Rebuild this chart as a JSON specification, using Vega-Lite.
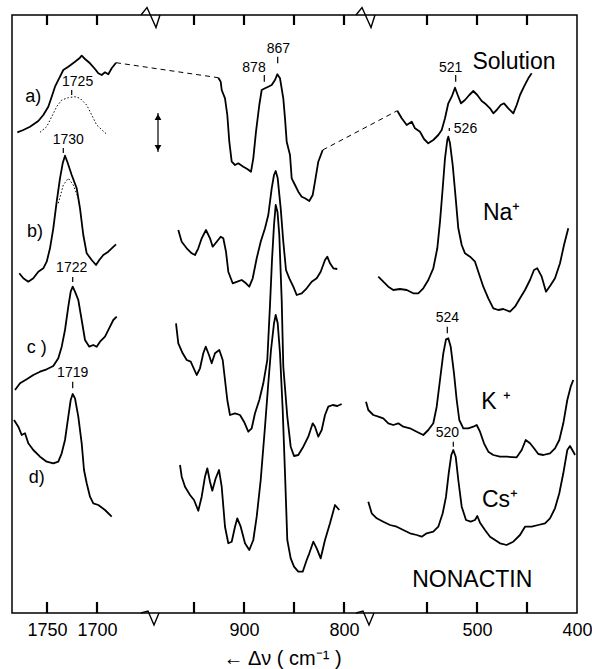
{
"$schema": "https://vega.github.io/schema/vega-lite/v6.json",
"width": 565, "height": 598,
"autosize": {"type": "none"},
"padding": {"left": 12, "top": 15, "right": 15, "bottom": 56},
"background": "white",
"config": {"view": {"stroke": "#000", "strokeWidth": 1.5}, "font": "Liberation Sans", "text": {"font": "Liberation Sans", "color": "#000"}},
"datasets": {
"spec": [
{"s":"a1","w":1779.7,"i":480.7},{"s":"a1","w":1773.7,"i":483},{"s":"a1","w":1767,"i":486.3},{"s":"a1","w":1758.7,"i":492},{"s":"a1","w":1753.7,"i":498},{"s":"a1","w":1748.7,"i":506.3},{"s":"a1","w":1745.3,"i":516.3},{"s":"a1","w":1742,"i":526.3},{"s":"a1","w":1737,"i":536.3},{"s":"a1","w":1733.7,"i":543},{"s":"a1","w":1728.7,"i":546.3},{"s":"a1","w":1722,"i":551.3},{"s":"a1","w":1717,"i":555.3},{"s":"a1","w":1715.3,"i":557.3},{"s":"a1","w":1712,"i":554},{"s":"a1","w":1707,"i":549.7},{"s":"a1","w":1702,"i":544},{"s":"a1","w":1698.7,"i":539.7},{"s":"a1","w":1695.3,"i":538},{"s":"a1","w":1692,"i":540.7},{"s":"a1","w":1688.7,"i":538.7},{"s":"a1","w":1685.3,"i":544.7},{"s":"a1","w":1681,"i":550.3},
{"s":"a2","w":925.7,"i":535.3},{"s":"a2","w":923.3,"i":531.3},{"s":"a2","w":922.3,"i":523},{"s":"a2","w":919,"i":514.7},{"s":"a2","w":916.7,"i":498},{"s":"a2","w":914.7,"i":471.3},{"s":"a2","w":912.3,"i":451.3},{"s":"a2","w":909,"i":448},{"s":"a2","w":905.7,"i":449.7},{"s":"a2","w":900.7,"i":446.3},{"s":"a2","w":896.7,"i":444},{"s":"a2","w":893,"i":441.3},{"s":"a2","w":890.7,"i":454.7},{"s":"a2","w":888,"i":481.3},{"s":"a2","w":884.7,"i":508},{"s":"a2","w":882.3,"i":523},{"s":"a2","w":879,"i":524.7},{"s":"a2","w":875.7,"i":526.3},{"s":"a2","w":872.3,"i":528},{"s":"a2","w":869,"i":533},{"s":"a2","w":866.7,"i":538.7},{"s":"a2","w":864,"i":534.7},{"s":"a2","w":860.7,"i":514.7},{"s":"a2","w":859,"i":494.7},{"s":"a2","w":857.3,"i":471.3},{"s":"a2","w":854,"i":458},{"s":"a2","w":852.3,"i":434.7},{"s":"a2","w":849,"i":428},{"s":"a2","w":845.7,"i":421.3},{"s":"a2","w":842.3,"i":416.3},{"s":"a2","w":839,"i":414.7},{"s":"a2","w":834.7,"i":412},{"s":"a2","w":831.3,"i":418},{"s":"a2","w":829,"i":431.3},{"s":"a2","w":825.7,"i":451.3},{"s":"a2","w":821.3,"i":463},
{"s":"a3","w":579.7,"i":502.3},{"s":"a3","w":575.3,"i":494.7},{"s":"a3","w":570.3,"i":488},{"s":"a3","w":565.3,"i":491.3},{"s":"a3","w":562,"i":484.7},{"s":"a3","w":557,"i":481.3},{"s":"a3","w":553,"i":474},{"s":"a3","w":548.7,"i":469.7},{"s":"a3","w":543.7,"i":473},{"s":"a3","w":538.7,"i":478},{"s":"a3","w":535.3,"i":483},{"s":"a3","w":532,"i":494.7},{"s":"a3","w":528.7,"i":509.7},{"s":"a3","w":525.3,"i":516.3},{"s":"a3","w":522,"i":525.3},{"s":"a3","w":519.3,"i":518},{"s":"a3","w":516,"i":509.7},{"s":"a3","w":512,"i":513},{"s":"a3","w":507.7,"i":518},{"s":"a3","w":503.7,"i":522},{"s":"a3","w":499.7,"i":518},{"s":"a3","w":495.3,"i":512},{"s":"a3","w":491,"i":508.7},{"s":"a3","w":487,"i":504.7},{"s":"a3","w":483.7,"i":499.7},{"s":"a3","w":480.3,"i":503},{"s":"a3","w":476.3,"i":508},{"s":"a3","w":473,"i":509.7},{"s":"a3","w":468.7,"i":504.7},{"s":"a3","w":463.7,"i":499.7},{"s":"a3","w":460.3,"i":508},{"s":"a3","w":457,"i":518},{"s":"a3","w":453,"i":526.3},{"s":"a3","w":448.7,"i":534.7},{"s":"a3","w":445.3,"i":539.7},
{"s":"b1","w":1777.7,"i":339.7},{"s":"b1","w":1773.7,"i":334.7},{"s":"b1","w":1768.7,"i":331.3},{"s":"b1","w":1763.7,"i":334.7},{"s":"b1","w":1758.7,"i":341.3},{"s":"b1","w":1753.7,"i":344.7},{"s":"b1","w":1750.3,"i":351.3},{"s":"b1","w":1747,"i":364.7},{"s":"b1","w":1743.7,"i":384.7},{"s":"b1","w":1740.3,"i":411.3},{"s":"b1","w":1737,"i":434.7},{"s":"b1","w":1734.3,"i":449.7},{"s":"b1","w":1732,"i":457.3},{"s":"b1","w":1729.7,"i":451.3},{"s":"b1","w":1725.3,"i":438},{"s":"b1","w":1720.3,"i":424.7},{"s":"b1","w":1717,"i":404.7},{"s":"b1","w":1713.7,"i":378},{"s":"b1","w":1710.3,"i":359.7},{"s":"b1","w":1705.3,"i":353},{"s":"b1","w":1701,"i":348},{"s":"b1","w":1697.7,"i":353},{"s":"b1","w":1693.7,"i":358},{"s":"b1","w":1688.7,"i":361.3},{"s":"b1","w":1685.3,"i":364.7},{"s":"b1","w":1681,"i":368.7},
{"s":"b2","w":965.7,"i":383},{"s":"b2","w":962.3,"i":371.3},{"s":"b2","w":957.3,"i":364.7},{"s":"b2","w":952.3,"i":359.7},{"s":"b2","w":949,"i":358},{"s":"b2","w":945.7,"i":364.7},{"s":"b2","w":942.3,"i":374.7},{"s":"b2","w":938,"i":383},{"s":"b2","w":934,"i":374.7},{"s":"b2","w":931.3,"i":366.3},{"s":"b2","w":927.3,"i":371.3},{"s":"b2","w":923.3,"i":376.3},{"s":"b2","w":920.7,"i":374.7},{"s":"b2","w":918,"i":361.3},{"s":"b2","w":915.7,"i":341.3},{"s":"b2","w":911.3,"i":329.7},{"s":"b2","w":906.7,"i":331.3},{"s":"b2","w":902.3,"i":333},{"s":"b2","w":898,"i":329.7},{"s":"b2","w":894.7,"i":326.3},{"s":"b2","w":891.3,"i":334.7},{"s":"b2","w":887.3,"i":354.7},{"s":"b2","w":883.3,"i":371.3},{"s":"b2","w":879,"i":384.7},{"s":"b2","w":875.7,"i":398},{"s":"b2","w":872.3,"i":424.7},{"s":"b2","w":870,"i":438},{"s":"b2","w":868.3,"i":442},{"s":"b2","w":866.3,"i":434.7},{"s":"b2","w":863.3,"i":404.7},{"s":"b2","w":860.7,"i":371.3},{"s":"b2","w":858,"i":343},{"s":"b2","w":854.7,"i":334.7},{"s":"b2","w":850.7,"i":326.3},{"s":"b2","w":847.3,"i":318},{"s":"b2","w":842.3,"i":319.7},{"s":"b2","w":837.3,"i":324.7},{"s":"b2","w":832.3,"i":331.3},{"s":"b2","w":827.3,"i":334.7},{"s":"b2","w":823.3,"i":341.3},{"s":"b2","w":819,"i":353},{"s":"b2","w":816.7,"i":356.3},{"s":"b2","w":814,"i":349.7},{"s":"b2","w":810.7,"i":344.7},{"s":"b2","w":806.7,"i":344},
{"s":"b3","w":598.7,"i":336.3},{"s":"b3","w":593.7,"i":331.3},{"s":"b3","w":588.7,"i":326.3},{"s":"b3","w":583.7,"i":323},{"s":"b3","w":577,"i":324},{"s":"b3","w":570.3,"i":323},{"s":"b3","w":563.7,"i":319.7},{"s":"b3","w":558.7,"i":319.7},{"s":"b3","w":553.7,"i":324.7},{"s":"b3","w":548.7,"i":333},{"s":"b3","w":543.7,"i":344.7},{"s":"b3","w":539.7,"i":364.7},{"s":"b3","w":537,"i":391.3},{"s":"b3","w":534.3,"i":424.7},{"s":"b3","w":532,"i":454.7},{"s":"b3","w":529.7,"i":473},{"s":"b3","w":528.7,"i":476.3},{"s":"b3","w":527,"i":469.7},{"s":"b3","w":524.3,"i":448},{"s":"b3","w":521.3,"i":414.7},{"s":"b3","w":518.7,"i":384.7},{"s":"b3","w":515.3,"i":368},{"s":"b3","w":512,"i":359.7},{"s":"b3","w":507,"i":356.3},{"s":"b3","w":502,"i":351.3},{"s":"b3","w":498.7,"i":341.3},{"s":"b3","w":493.7,"i":326.3},{"s":"b3","w":488.7,"i":314.7},{"s":"b3","w":483.7,"i":304.7},{"s":"b3","w":478.7,"i":303},{"s":"b3","w":473.7,"i":304},{"s":"b3","w":467,"i":301.3},{"s":"b3","w":462,"i":306.3},{"s":"b3","w":457,"i":314.7},{"s":"b3","w":452,"i":323},{"s":"b3","w":447,"i":333},{"s":"b3","w":443,"i":343},{"s":"b3","w":439.7,"i":344.7},{"s":"b3","w":435.3,"i":336.3},{"s":"b3","w":431,"i":321.3},{"s":"b3","w":426.3,"i":328},{"s":"b3","w":422,"i":334.7},{"s":"b3","w":417,"i":349.7},{"s":"b3","w":413,"i":368},{"s":"b3","w":408.7,"i":384.7},
{"s":"c1","w":1782,"i":223},{"s":"c1","w":1777,"i":229.7},{"s":"c1","w":1770.3,"i":233.7},{"s":"c1","w":1763.7,"i":238},{"s":"c1","w":1757,"i":241.3},{"s":"c1","w":1750.3,"i":243.7},{"s":"c1","w":1743.7,"i":247},{"s":"c1","w":1738.7,"i":254.7},{"s":"c1","w":1735.3,"i":266.3},{"s":"c1","w":1732,"i":283},{"s":"c1","w":1728.7,"i":306.3},{"s":"c1","w":1726.3,"i":321.3},{"s":"c1","w":1724.3,"i":326.3},{"s":"c1","w":1722,"i":321.3},{"s":"c1","w":1718.7,"i":313},{"s":"c1","w":1715.3,"i":293},{"s":"c1","w":1712,"i":273},{"s":"c1","w":1707.7,"i":266.3},{"s":"c1","w":1703.7,"i":268},{"s":"c1","w":1700.3,"i":266.3},{"s":"c1","w":1697,"i":271.3},{"s":"c1","w":1692,"i":276.3},{"s":"c1","w":1687,"i":286.3},{"s":"c1","w":1683.7,"i":293},{"s":"c1","w":1680.3,"i":296.3},
{"s":"c2","w":968,"i":289.7},{"s":"c2","w":965.7,"i":269.7},{"s":"c2","w":961.3,"i":259.7},{"s":"c2","w":957.3,"i":253},{"s":"c2","w":953.3,"i":251.3},{"s":"c2","w":947.3,"i":238},{"s":"c2","w":944,"i":244.7},{"s":"c2","w":940.7,"i":259.7},{"s":"c2","w":938.3,"i":266.3},{"s":"c2","w":935,"i":258},{"s":"c2","w":932.3,"i":249.7},{"s":"c2","w":929,"i":259.7},{"s":"c2","w":924.7,"i":263},{"s":"c2","w":921.3,"i":253},{"s":"c2","w":919,"i":233},{"s":"c2","w":916.7,"i":213},{"s":"c2","w":914,"i":198},{"s":"c2","w":909,"i":199.7},{"s":"c2","w":904,"i":198},{"s":"c2","w":900,"i":191.3},{"s":"c2","w":895.7,"i":181.3},{"s":"c2","w":892.3,"i":184.7},{"s":"c2","w":889,"i":199.7},{"s":"c2","w":884.7,"i":213},{"s":"c2","w":880.7,"i":229.7},{"s":"c2","w":876.7,"i":253},{"s":"c2","w":874,"i":308},{"s":"c2","w":872,"i":353},{"s":"c2","w":870,"i":388},{"s":"c2","w":868.3,"i":408},{"s":"c2","w":866.5,"i":401},{"s":"c2","w":864.7,"i":378},{"s":"c2","w":862.3,"i":313},{"s":"c2","w":860.7,"i":246.3},{"s":"c2","w":856.7,"i":196.3},{"s":"c2","w":853.3,"i":166.3},{"s":"c2","w":850,"i":157},{"s":"c2","w":845.7,"i":158},{"s":"c2","w":840.7,"i":166.3},{"s":"c2","w":835.7,"i":176.3},{"s":"c2","w":831.3,"i":189.7},{"s":"c2","w":829,"i":186.3},{"s":"c2","w":825.7,"i":176.3},{"s":"c2","w":822.3,"i":183},{"s":"c2","w":819,"i":198},{"s":"c2","w":815.7,"i":206.3},{"s":"c2","w":811.3,"i":208},{"s":"c2","w":806.7,"i":207},{"s":"c2","w":802.3,"i":209},
{"s":"c3","w":611,"i":211.3},{"s":"c3","w":608.7,"i":203},{"s":"c3","w":603.7,"i":198},{"s":"c3","w":598.7,"i":196.3},{"s":"c3","w":593.7,"i":194.7},{"s":"c3","w":588.7,"i":189.7},{"s":"c3","w":583.7,"i":188},{"s":"c3","w":578.7,"i":189.7},{"s":"c3","w":573.7,"i":186.3},{"s":"c3","w":567,"i":184.7},{"s":"c3","w":560.3,"i":181.3},{"s":"c3","w":553.7,"i":178},{"s":"c3","w":548.7,"i":183},{"s":"c3","w":543.7,"i":189.7},{"s":"c3","w":540.3,"i":206.3},{"s":"c3","w":537,"i":233},{"s":"c3","w":533.7,"i":259.7},{"s":"c3","w":531,"i":273.7},{"s":"c3","w":528.7,"i":274.7},{"s":"c3","w":526.3,"i":266.3},{"s":"c3","w":523,"i":239.7},{"s":"c3","w":520.3,"i":213},{"s":"c3","w":517.7,"i":193},{"s":"c3","w":513.7,"i":184.7},{"s":"c3","w":508.7,"i":184.7},{"s":"c3","w":503.7,"i":186.3},{"s":"c3","w":500.3,"i":188},{"s":"c3","w":497,"i":181.3},{"s":"c3","w":493,"i":169.7},{"s":"c3","w":488.7,"i":161.3},{"s":"c3","w":483.7,"i":158},{"s":"c3","w":477,"i":156.3},{"s":"c3","w":470.3,"i":156.3},{"s":"c3","w":460.3,"i":155.7},{"s":"c3","w":455.3,"i":163},{"s":"c3","w":451.3,"i":173},{"s":"c3","w":447,"i":169.7},{"s":"c3","w":443,"i":164.7},{"s":"c3","w":438.7,"i":159},{"s":"c3","w":433.7,"i":158},{"s":"c3","w":427,"i":159.7},{"s":"c3","w":422,"i":164.7},{"s":"c3","w":417.7,"i":173},{"s":"c3","w":413.7,"i":189.7},{"s":"c3","w":409.7,"i":213},{"s":"c3","w":406.3,"i":226.3},{"s":"c3","w":403.7,"i":233},
{"s":"d1","w":1783,"i":193},{"s":"d1","w":1778.7,"i":186.3},{"s":"d1","w":1775.3,"i":178},{"s":"d1","w":1772,"i":179.7},{"s":"d1","w":1768.7,"i":169.7},{"s":"d1","w":1763.7,"i":163},{"s":"d1","w":1757,"i":156.3},{"s":"d1","w":1750.3,"i":151.3},{"s":"d1","w":1743.7,"i":149.7},{"s":"d1","w":1738.7,"i":151.3},{"s":"d1","w":1735.3,"i":159.7},{"s":"d1","w":1732,"i":173},{"s":"d1","w":1728.7,"i":196.3},{"s":"d1","w":1726.3,"i":213},{"s":"d1","w":1724.3,"i":219},{"s":"d1","w":1722,"i":214.7},{"s":"d1","w":1718.7,"i":196.3},{"s":"d1","w":1715.3,"i":169.7},{"s":"d1","w":1713,"i":143},{"s":"d1","w":1710.3,"i":129.7},{"s":"d1","w":1707,"i":116.3},{"s":"d1","w":1703.7,"i":109.7},{"s":"d1","w":1698.7,"i":108},{"s":"d1","w":1692,"i":103},{"s":"d1","w":1685.3,"i":96.3},
{"s":"d2","w":964,"i":148},{"s":"d2","w":962.3,"i":136.3},{"s":"d2","w":959,"i":126.3},{"s":"d2","w":954,"i":118},{"s":"d2","w":950,"i":113},{"s":"d2","w":945.7,"i":102.3},{"s":"d2","w":942.3,"i":116.3},{"s":"d2","w":939,"i":136.3},{"s":"d2","w":936.7,"i":144.7},{"s":"d2","w":934,"i":131.3},{"s":"d2","w":931.7,"i":122.3},{"s":"d2","w":928.3,"i":134.7},{"s":"d2","w":925,"i":143},{"s":"d2","w":922.3,"i":126.3},{"s":"d2","w":919,"i":86.3},{"s":"d2","w":915.7,"i":69.7},{"s":"d2","w":912.3,"i":71.3},{"s":"d2","w":909,"i":86.3},{"s":"d2","w":906.7,"i":94.7},{"s":"d2","w":903.3,"i":86.3},{"s":"d2","w":899,"i":69.7},{"s":"d2","w":894.7,"i":63},{"s":"d2","w":890.7,"i":73},{"s":"d2","w":887.3,"i":96.3},{"s":"d2","w":883.3,"i":133},{"s":"d2","w":879,"i":186.3},{"s":"d2","w":875.7,"i":229.7},{"s":"d2","w":873,"i":263},{"s":"d2","w":870,"i":289.7},{"s":"d2","w":868.3,"i":298},{"s":"d2","w":866.3,"i":289.7},{"s":"d2","w":864,"i":259.7},{"s":"d2","w":861.3,"i":203},{"s":"d2","w":859,"i":139.7},{"s":"d2","w":856.7,"i":73},{"s":"d2","w":853.3,"i":54.7},{"s":"d2","w":850,"i":46.3},{"s":"d2","w":845.7,"i":41.3},{"s":"d2","w":841.3,"i":41.3},{"s":"d2","w":837.3,"i":53},{"s":"d2","w":834.7,"i":59.7},{"s":"d2","w":830.7,"i":71.3},{"s":"d2","w":827.3,"i":64.7},{"s":"d2","w":823.3,"i":54.7},{"s":"d2","w":819,"i":73},{"s":"d2","w":814,"i":89.7},{"s":"d2","w":809,"i":108},{"s":"d2","w":804.7,"i":103},
{"s":"d3","w":608.7,"i":111.3},{"s":"d3","w":605.3,"i":99.7},{"s":"d3","w":600.3,"i":94.7},{"s":"d3","w":593.7,"i":91.3},{"s":"d3","w":587,"i":88},{"s":"d3","w":580.3,"i":86.3},{"s":"d3","w":573.7,"i":83},{"s":"d3","w":567,"i":79.7},{"s":"d3","w":560.3,"i":78},{"s":"d3","w":555.3,"i":76.3},{"s":"d3","w":550.3,"i":79.7},{"s":"d3","w":543.7,"i":81.3},{"s":"d3","w":538.7,"i":86.3},{"s":"d3","w":534.3,"i":99.7},{"s":"d3","w":531,"i":116.3},{"s":"d3","w":528.3,"i":139.7},{"s":"d3","w":525.7,"i":158},{"s":"d3","w":523.7,"i":163},{"s":"d3","w":521.3,"i":156.3},{"s":"d3","w":518.7,"i":133},{"s":"d3","w":515.3,"i":106.3},{"s":"d3","w":511,"i":93},{"s":"d3","w":506.3,"i":91.3},{"s":"d3","w":502,"i":93},{"s":"d3","w":499.7,"i":97},{"s":"d3","w":497,"i":90.3},{"s":"d3","w":492,"i":83},{"s":"d3","w":487,"i":76.3},{"s":"d3","w":482,"i":73},{"s":"d3","w":477,"i":69.7},{"s":"d3","w":470.3,"i":68},{"s":"d3","w":463.7,"i":71.3},{"s":"d3","w":457,"i":78},{"s":"d3","w":452,"i":86.3},{"s":"d3","w":445.3,"i":86.3},{"s":"d3","w":438.7,"i":88},{"s":"d3","w":432,"i":89.7},{"s":"d3","w":427,"i":94.7},{"s":"d3","w":422,"i":104.7},{"s":"d3","w":417.7,"i":119.7},{"s":"d3","w":413.7,"i":139.7},{"s":"d3","w":409.7,"i":163},{"s":"d3","w":407,"i":167},{"s":"d3","w":403.7,"i":161.3},{"s":"d3","w":402,"i":158}
],
"dot": [
{"s":"ad","w":1757,"i":480.7},{"s":"ad","w":1750.3,"i":486.3},{"s":"ad","w":1745.3,"i":496.3},{"s":"ad","w":1740.3,"i":506.3},{"s":"ad","w":1735.3,"i":513},{"s":"ad","w":1728.7,"i":515.3},{"s":"ad","w":1722,"i":516.3},{"s":"ad","w":1717,"i":514.7},{"s":"ad","w":1710.3,"i":508},{"s":"ad","w":1705.3,"i":498},{"s":"ad","w":1700.3,"i":488},{"s":"ad","w":1690.3,"i":478.7},
{"s":"bd","w":1738.7,"i":409.7},{"s":"bd","w":1733.7,"i":428},{"s":"bd","w":1728.7,"i":434.7},{"s":"bd","w":1723.7,"i":428},{"s":"bd","w":1718.7,"i":414.7}
],
"dash": [
{"s":"x1","w":1681,"i":550.3},{"s":"x1","w":925.7,"i":535.3},
{"s":"x2","w":821.3,"i":463},{"s":"x2","w":579.7,"i":502.3}
],
"peaks": [
{"t":"1725","w":1719.4,"i":531.3},{"t":"1730","w":1728.7,"i":473},{"t":"1722","w":1725.3,"i":344.7},{"t":"1719","w":1724.3,"i":240.3},
{"t":"878","w":890,"i":545.3},{"t":"867","w":865.7,"i":563.7},{"t":"521","w":526.3,"i":545.3},{"t":"526","w":511.5,"i":484},
{"t":"524","w":529.7,"i":294.7},{"t":"520","w":529.7,"i":179.7}
],
"rules": [
{"w":1725.3,"a":523,"b":518},{"w":1733.7,"a":465,"b":460},{"w":1724.3,"a":336,"b":331},{"w":1724.3,"a":231.3,"b":224.7},
{"w":879.7,"a":538,"b":531.3},{"w":866.3,"a":556.3,"b":549.7},{"w":521.3,"a":538,"b":531.3},{"w":527.7,"a":485,"b":482},
{"w":529.7,"a":286.3,"b":279.7},{"w":523.7,"a":171.3,"b":166.3},
{"w":986,"a":500,"b":461}
],
"axticks": [
{"w":1750,"a":0,"b":11},{"w":1700,"a":0,"b":11},{"w":950,"a":0,"b":11},{"w":900,"a":0,"b":11},{"w":850,"a":0,"b":11},{"w":800,"a":0,"b":11},{"w":550,"a":0,"b":11},{"w":500,"a":0,"b":11},{"w":450,"a":0,"b":11},
{"w":1750,"a":598,"b":588},{"w":1700,"a":598,"b":588},{"w":950,"a":598,"b":588},{"w":900,"a":598,"b":588},{"w":850,"a":598,"b":588},{"w":800,"a":598,"b":588},{"w":550,"a":598,"b":588},{"w":500,"a":598,"b":588},{"w":450,"a":598,"b":588}
],
"tags": [
{"t":"a)","w":1763.7,"i":516.3},{"t":"b)","w":1762,"i":381.3},{"t":"c )","w":1760.3,"i":264.7},{"t":"d)","w":1760.3,"i":134.7}
],
"names": [
{"t":"Solution","w":463,"i":551.3},{"t":"Na⁺","w":475.3,"i":399.7},{"t":"K ⁺","w":481,"i":211.3},{"t":"Cs⁺","w":477,"i":113},{"t":"NONACTIN","w":504.7,"i":33}
],
"upheads": [{"w":986,"i":496}],
"downheads": [{"w":986,"i":465}],
"topbreaks": [{"w":1646,"i":598},{"w":778,"i":598}],
"bottombreaks": [{"w":1646,"i":0},{"w":778,"i":0}]
},
"layer": [
{"data": {"name": "rules"},
 "mark": {"type": "rule", "stroke": "#000", "strokeWidth": 1.2},
 "encoding": {
  "x": {"field": "w", "type": "quantitative",
        "scale": {"domain": [1785, 1646, 993, 778, 611, 400], "range": [0, 139, 139, 354, 354, 565], "nice": false, "zero": false},
        "axis": {"orient": "bottom", "values": [1750, 1700, 900, 800, 500, 400], "format": "d",
                 "ticks": false, "domain": false, "grid": false,
                 "labelFontSize": 18, "labelColor": "#000", "labelPadding": 8, "labelFlush": false, "labelOverlap": false, "labelFont": "Liberation Sans",
                 "title": "← Δν ( cm⁻¹ )", "titleFontSize": 20, "titleFontWeight": "normal", "titleColor": "#000", "titleFont": "Liberation Sans",
                 "titleX": 270, "titleY": 45, "titleBaseline": "middle", "titleAlign": "center"}},
  "y": {"field": "a", "type": "quantitative", "scale": {"domain": [0, 598], "nice": false, "zero": false}, "axis": null},
  "y2": {"field": "b"}}},
{"data": {"name": "spec"},
 "mark": {"type": "line", "stroke": "#000", "strokeWidth": 1.8, "strokeJoin": "round"},
 "encoding": {"x": {"field": "w", "type": "quantitative"}, "y": {"field": "i", "type": "quantitative"}, "detail": {"field": "s"}}},
{"data": {"name": "dot"},
 "mark": {"type": "line", "stroke": "#000", "strokeWidth": 1, "strokeDash": [1.5, 2]},
 "encoding": {"x": {"field": "w", "type": "quantitative"}, "y": {"field": "i", "type": "quantitative"}, "detail": {"field": "s"}}},
{"data": {"name": "dash"},
 "mark": {"type": "line", "stroke": "#000", "strokeWidth": 1, "strokeDash": [5, 4]},
 "encoding": {"x": {"field": "w", "type": "quantitative"}, "y": {"field": "i", "type": "quantitative"}, "detail": {"field": "s"}}},
{"data": {"name": "peaks"},
 "mark": {"type": "text", "fontSize": 14, "baseline": "middle", "align": "center"},
 "encoding": {"x": {"field": "w", "type": "quantitative"}, "y": {"field": "i", "type": "quantitative"}, "text": {"field": "t"}}},
{"data": {"name": "tags"},
 "mark": {"type": "text", "fontSize": 18, "baseline": "middle", "align": "center"},
 "encoding": {"x": {"field": "w", "type": "quantitative"}, "y": {"field": "i", "type": "quantitative"}, "text": {"field": "t"}}},
{"data": {"name": "names"},
 "mark": {"type": "text", "fontSize": 23, "baseline": "middle", "align": "center"},
 "encoding": {"x": {"field": "w", "type": "quantitative"}, "y": {"field": "i", "type": "quantitative"}, "text": {"field": "t"}}},
{"data": {"name": "upheads"},
 "mark": {"type": "point", "filled": true, "color": "#000", "size": 45, "opacity": 1, "shape": "triangle-up"},
 "encoding": {"x": {"field": "w", "type": "quantitative"}, "y": {"field": "i", "type": "quantitative"}}},
{"data": {"name": "downheads"},
 "mark": {"type": "point", "filled": true, "color": "#000", "size": 45, "opacity": 1, "shape": "triangle-down"},
 "encoding": {"x": {"field": "w", "type": "quantitative"}, "y": {"field": "i", "type": "quantitative"}}},
{"data": {"name": "topbreaks"},
 "mark": {"type": "point", "filled": false, "stroke": "#000", "strokeWidth": 1.4, "size": 400, "opacity": 1, "shape": "M-1,0L-0.4,-0.75L0.5,1.25L0.9,0"},
 "encoding": {"x": {"field": "w", "type": "quantitative"}, "y": {"field": "i", "type": "quantitative"}}},
{"data": {"name": "bottombreaks"},
 "mark": {"type": "point", "filled": false, "stroke": "#000", "strokeWidth": 1.4, "size": 400, "opacity": 1, "shape": "M-1,0L-0.3,-0.2L0.3,1.2L0.8,0"},
 "encoding": {"x": {"field": "w", "type": "quantitative"}, "y": {"field": "i", "type": "quantitative"}}},
{"data": {"name": "axticks"},
 "mark": {"type": "rule", "stroke": "#000", "strokeWidth": 2.2},
 "encoding": {"x": {"field": "w", "type": "quantitative"}, "y": {"field": "a", "type": "quantitative"}, "y2": {"field": "b"}}}
]
}
